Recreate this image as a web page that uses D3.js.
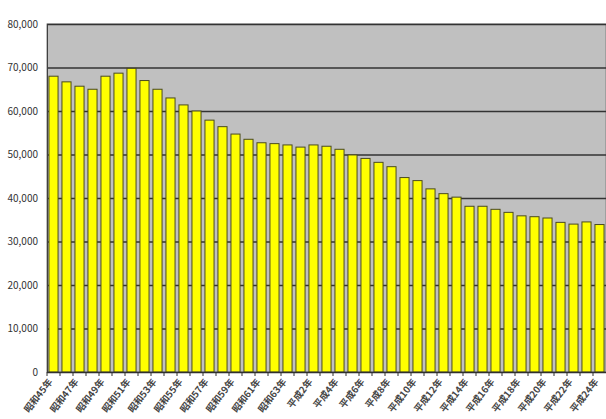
<!DOCTYPE html>
<html>
<head>
<meta charset="utf-8">
<script src="https://cdn.jsdelivr.net/npm/d3@7"></script>
<style>
    html, body { margin: 0; padding: 0; background: #fff; }
    svg { display: block; }
    .tick text { font-family: "Noto Sans CJK JP", "Noto Sans", sans-serif; fill: #333; }
</style>
</head>
<body>
<div id="chart"></div>
<script>
// 昭和45年 .. 平成24年
const years = [
    "昭和45年","昭和46年","昭和47年","昭和48年","昭和49年","昭和50年","昭和51年","昭和52年",
    "昭和53年","昭和54年","昭和55年","昭和56年","昭和57年","昭和58年","昭和59年","昭和60年",
    "昭和61年","昭和62年","昭和63年","平成元年","平成2年","平成3年","平成4年","平成5年",
    "平成6年","平成7年","平成8年","平成9年","平成10年","平成11年","平成12年","平成13年",
    "平成14年","平成15年","平成16年","平成17年","平成18年","平成19年","平成20年","平成21年",
    "平成22年","平成23年","平成24年"
];

const values = [
    68000, 66700, 65700, 65000, 68000, 68700, 69800, 67000, 65000, 63000,
    61400, 60000, 57900, 56400, 54700, 53500, 52700, 52500, 52200, 51700,
    52200, 51900, 51200, 49900, 49100, 48200, 47200, 44700, 44000, 42100,
    41000, 40200, 38100, 38100, 37400, 36700, 35900, 35700, 35400, 34400,
    34000, 34500, 33900
];

const yTicks = [0, 10000, 20000, 30000, 40000, 50000, 60000, 70000, 80000];

const W = 606, H = 419;
const m = { left: 47, right: 606, top: 24, bottom: 372 };

const svg = d3.select('#chart').append('svg')
    .attr('width', W)
    .attr('height', H);

const x = d3.scaleBand()
    .domain(years)
    .range([m.left, m.right])
    .paddingInner(0.3)
    .paddingOuter(0.15);

const y = d3.scaleLinear()
    .domain([0, 80000])
    .range([m.bottom, m.top]);

// plot background
svg.append('rect')
    .attr('x', m.left)
    .attr('y', m.top)
    .attr('width', m.right - m.left)
    .attr('height', m.bottom - m.top)
    .style('fill', '#c0c0c0')
    .style('stroke', '#808080')
    .style('stroke-width', 1);

// gridlines
svg.append('g')
    .selectAll('line')
    .data(yTicks.filter(d => d > 0))
    .enter().append('line')
        .attr('x1', m.left)
        .attr('x2', m.right)
        .attr('y1', d => y(d) + 0.5)
        .attr('y2', d => y(d) + 0.5)
        .style('stroke', '#333')
        .style('stroke-width', 1.3);

// bars
svg.append('g')
    .selectAll('rect')
    .data(values)
    .enter().append('rect')
        .attr('x', (d, i) => x(years[i]))
        .attr('y', d => y(d))
        .attr('width', x.bandwidth())
        .attr('height', d => m.bottom - y(d))
        .style('fill', '#ffff00')
        .style('stroke', '#4a4a20')
        .style('stroke-width', 1);

// y axis
const yAxis = svg.append('g')
    .attr('transform', 'translate(' + m.left + ',0)')
    .call(d3.axisLeft(y)
        .tickValues(yTicks)
        .tickSize(0)
        .tickPadding(9)
        .tickFormat(d3.format(',')));
yAxis.select('.domain').style('stroke', '#404040');
yAxis.selectAll('text').style('font-size', '10px');

// x axis, every other year labelled
const xAxis = svg.append('g')
    .attr('transform', 'translate(0,' + m.bottom + ')')
    .call(d3.axisBottom(x)
        .tickValues(years.filter((d, i) => i % 2 === 0))
        .tickSize(0)
        .tickPadding(0));
xAxis.select('.domain').remove();
xAxis.selectAll('text')
    .style('font-size', '9.5px')
    .style('font-weight', 'bold')
    .style('fill', '#444')
    .attr('y', 0)
    .attr('text-anchor', 'end')
    .attr('dy', '0.35em')
    .attr('transform', 'translate(-3,8) rotate(-52)');

// baseline + small ticks between bars
svg.append('line')
    .attr('x1', m.left)
    .attr('x2', m.right)
    .attr('y1', m.bottom + 0.5)
    .attr('y2', m.bottom + 0.5)
    .style('stroke', '#303030')
    .style('stroke-width', 1.5);

svg.append('g')
    .selectAll('line')
    .data(years)
    .enter().append('line')
        .attr('x1', d => x(d) - x.step() * x.paddingInner() / 2)
        .attr('x2', d => x(d) - x.step() * x.paddingInner() / 2)
        .attr('y1', m.bottom)
        .attr('y2', m.bottom + 4)
        .style('stroke', '#303030');
</script>
</body>
</html>
